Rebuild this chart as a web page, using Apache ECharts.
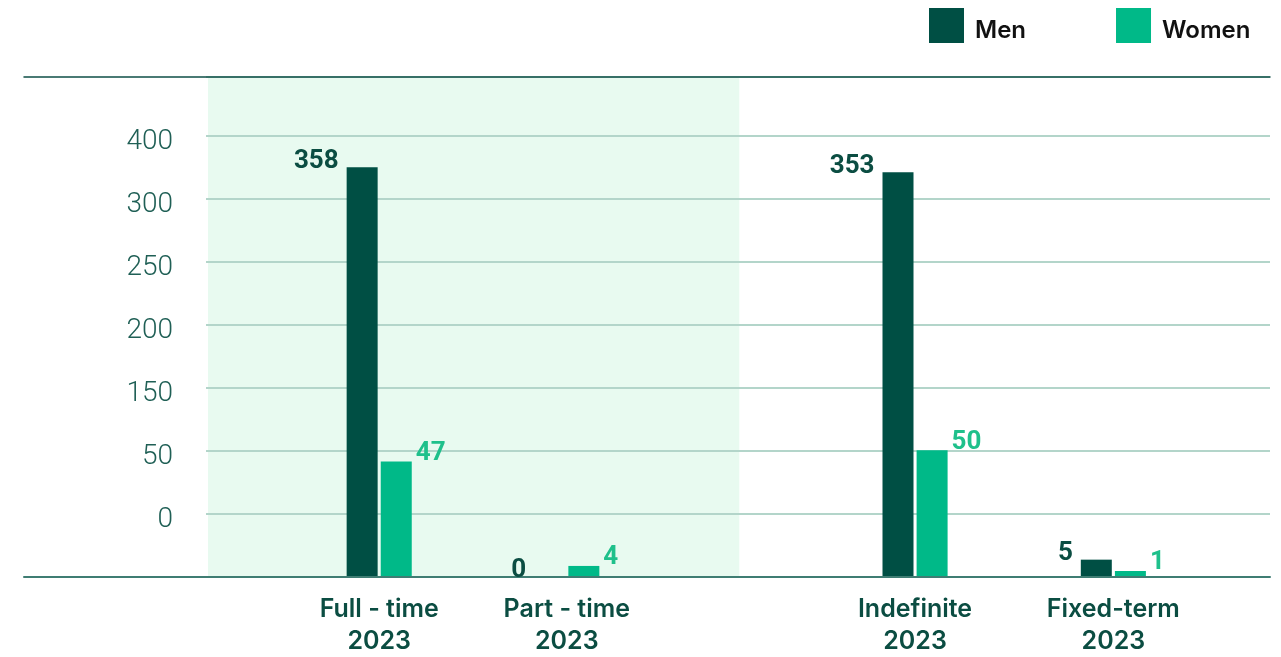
<!DOCTYPE html>
<html>
<head>
<meta charset="utf-8">
<script src="https://cdn.jsdelivr.net/npm/echarts@6/dist/echarts.min.js"></script>
<style>
  html, body { margin: 0; padding: 0; background: #ffffff; }
  #chart { width: 1281px; height: 657px; }
</style>
</head>
<body>
<div id="chart"></div>
<script>
// ---- data ----
const categories = ['Full - time', 'Part - time', 'Indefinite', 'Fixed-term'];
const yearLabel = '2023';
// bar heights as drawn against the gridlines (50 per gridline step)
const menHeights = [325, 0, 321, 13];
const womenHeights = [91, 8, 100, 4];
// printed value labels
const menLabels = [358, 0, 353, 5];
const womenLabels = [47, 4, 50, 1];
// printed y-axis tick labels (one per gridline, from the baseline upward)
const yTickLabels = ['', '0', '50', '150', '200', '250', '300', '400'];

const MEN = '#004f44';
const WOMEN = '#00b988';
const DARK_TEXT = '#0b4d42';
const Y_MAX = 396.8;

const chart = echarts.init(document.getElementById('chart'), null, { renderer: 'canvas' });

const valueAxisHidden = (gridIndex) => ({
  type: 'value', gridIndex, min: 0, max: Y_MAX, interval: 50, show: false
});

const catAxis = (gridIndex, cats) => ({
  type: 'category', gridIndex, data: cats,
  axisLine: { show: false }, axisTick: { show: false },
  axisLabel: {
    margin: 17,
    fontFamily: 'Inter', fontWeight: 600, fontSize: 25, lineHeight: 32,
    color: DARK_TEXT,
    formatter: (v) => v + '\n' + yearLabel
  }
});

const barSeries = (name, color, xi, yi, values, labels, offsetIdx, isMen) => ({
  name, type: 'bar', xAxisIndex: xi, yAxisIndex: yi,
  data: values.slice(offsetIdx, offsetIdx + 2),
  barWidth: 31, barGap: '10%',
  itemStyle: { color },
  label: {
    show: true,
    position: isMen ? [0, -6] : ['100%', -8],
    offset: isMen ? [-8, 0] : [4, 0],
    align: isMen ? 'right' : 'left',
    verticalAlign: 'middle',
    fontFamily: 'Roboto', fontWeight: 'bold', fontSize: 26,
    color: isMen ? DARK_TEXT : '#1fc08b',
    formatter: (p) => String(labels[offsetIdx + p.dataIndex])
  }
});

const option = {
  backgroundColor: '#ffffff',
  animation: false,
  legend: {
    left: 924, top: 3,
    icon: 'rect', itemWidth: 35, itemHeight: 35, itemGap: 90,
    data: ['Men', 'Women'],
    formatter: (name) => '{t|' + name + '}',
    textStyle: {
      fontFamily: 'Inter', fontSize: 24, fontWeight: 600, color: '#111111',
      rich: {
        t: { fontFamily: 'Inter', fontSize: 24, fontWeight: 600, color: '#111111',
             padding: [10, 0, 0, 6] }
      }
    }
  },
  grid: [
    // 0: frame (top & bottom rules)
    { left: 24, right: 11, top: 77, bottom: 80 },
    // 1: shaded background for first pair
    { left: 208, right: 541.7, top: 77, bottom: 80, show: true,
      backgroundColor: '#e8faf0', borderWidth: 0 },
    // 2: gridlines and y labels
    { left: 206, right: 11, top: 77, bottom: 80 },
    // 3: bars Full/Part
    { left: 285.4, right: 620.4, top: 77, bottom: 80 },
    // 4: bars Indefinite/Fixed
    { left: 815.9, right: 68.5, top: 77, bottom: 80 }
  ],
  xAxis: [
    { type: 'value', gridIndex: 0, position: 'bottom', min: 0, max: 1,
      axisLine: { show: true, lineStyle: { color: '#3f7d73', width: 2 } },
      axisTick: { show: false }, axisLabel: { show: false }, splitLine: { show: false } },
    { type: 'value', gridIndex: 0, position: 'top', min: 0, max: 1,
      axisLine: { show: true, onZero: false, lineStyle: { color: '#0f4f47', width: 1.5 } },
      axisTick: { show: false }, axisLabel: { show: false }, splitLine: { show: false } },
    { type: 'value', gridIndex: 1, show: false, min: 0, max: 1 },
    { type: 'value', gridIndex: 2, show: false, min: 0, max: 1 },
    catAxis(3, categories.slice(0, 2)),
    catAxis(4, categories.slice(2, 4))
  ],
  yAxis: [
    valueAxisHidden(0),
    valueAxisHidden(1),
    { type: 'value', gridIndex: 2, min: 0, max: Y_MAX, interval: 50,
      axisLine: { show: false }, axisTick: { show: false },
      splitLine: { show: true, lineStyle: { color: '#b3d5ca', width: 2 } },
      axisLabel: {
        margin: 33, fontFamily: 'Roboto', fontWeight: 300, fontSize: 28,
        color: '#1f5f55',
        rich: {
          t: { fontFamily: 'Roboto', fontWeight: 300, fontSize: 28, color: '#1f5f55',
               padding: [12, 0, 0, 0] }
        },
        formatter: (v) => {
          const i = Math.round(v / 50);
          const ok = Math.abs(v - i * 50) < 1e-6 && yTickLabels[i];
          return ok ? '{t|' + yTickLabels[i] + '}' : '';
        }
      } },
    valueAxisHidden(3),
    valueAxisHidden(4)
  ],
  series: [
    barSeries('Men', MEN, 4, 3, menHeights, menLabels, 0, true),
    barSeries('Women', WOMEN, 4, 3, womenHeights, womenLabels, 0, false),
    barSeries('Men', MEN, 5, 4, menHeights, menLabels, 2, true),
    barSeries('Women', WOMEN, 5, 4, womenHeights, womenLabels, 2, false)
  ]
};

chart.setOption(option);
</script>
</body>
</html>
